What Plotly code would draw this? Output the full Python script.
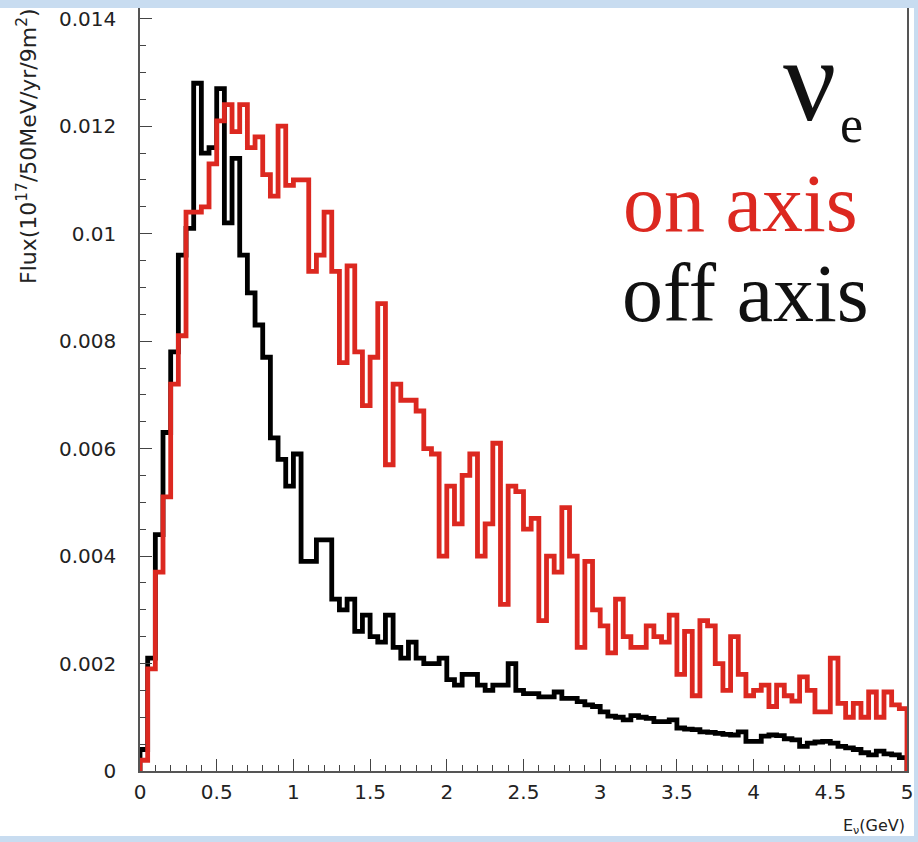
import numpy as np
import plotly.graph_objects as go

# ---------------- data ----------------
E_MIN = 0.0
E_MAX = 5.0
N_BINS = 100

off_axis = [
    0.0004, 0.0021, 0.0044, 0.0063, 0.0078, 0.0096, 0.0101, 0.0128, 0.0115, 0.0116,
    0.0127, 0.0102, 0.0114, 0.0096, 0.0089, 0.0083, 0.0077, 0.0062, 0.0058, 0.0053,
    0.0059, 0.0039, 0.0039, 0.0043, 0.0043, 0.0032, 0.0030, 0.0032, 0.0026, 0.0029,
    0.0025, 0.0024, 0.0029, 0.0023, 0.0021, 0.0024, 0.0021, 0.0020, 0.0020, 0.0021,
    0.0017, 0.0016, 0.0018, 0.0018, 0.0016, 0.0015, 0.0016, 0.0016, 0.0020, 0.0015,
    0.00144, 0.00144, 0.00138, 0.00138, 0.00147, 0.00135, 0.00135, 0.00129, 0.00123, 0.0012,
    0.0011, 0.00102, 0.0010, 0.00095, 0.00103, 0.0010, 0.00098, 0.00092, 0.00092, 0.00095,
    0.0008, 0.00078, 0.00077, 0.00073, 0.00072, 0.0007, 0.00068, 0.00067, 0.00073, 0.00055,
    0.00055, 0.00065, 0.00067, 0.00066, 0.0006, 0.00058, 0.00046, 0.00052, 0.00054, 0.00055,
    0.00052, 0.00046, 0.00043, 0.0004, 0.00034, 0.0003, 0.00037, 0.00032, 0.0003, 0.00025,
]

on_axis = [
    0.0002, 0.0019, 0.0037, 0.0051, 0.0072, 0.0081, 0.0104, 0.0104, 0.0105, 0.0113,
    0.0121, 0.0124, 0.0119, 0.0124, 0.0116, 0.0118, 0.0111, 0.0107, 0.0120, 0.0109,
    0.0110, 0.0110, 0.0093, 0.0096, 0.0104, 0.0093, 0.0076, 0.0094, 0.0078, 0.0068,
    0.0077, 0.0087, 0.0057, 0.0072, 0.0069, 0.0069, 0.0067, 0.0060, 0.0059, 0.0040,
    0.0053, 0.0046, 0.0055, 0.0059, 0.0040, 0.0046, 0.0061, 0.0031, 0.0053, 0.0052,
    0.0045, 0.0047, 0.0028, 0.0040, 0.0037, 0.0049, 0.0040, 0.0023, 0.0039, 0.0030,
    0.0027, 0.0022, 0.0032, 0.0025, 0.0023, 0.0023, 0.0027, 0.0025, 0.0024, 0.0029,
    0.0018, 0.0026, 0.0014, 0.0028, 0.0027, 0.0020, 0.0015, 0.0025, 0.0018, 0.0014,
    0.0015, 0.0016, 0.0012, 0.0016, 0.0014, 0.0013, 0.00175, 0.0015, 0.0011, 0.0011,
    0.0021, 0.00126, 0.0010, 0.00126, 0.0010, 0.00147, 0.0010, 0.00147, 0.00123, 0.00116,
]

x_ticks = [0, 0.5, 1, 1.5, 2, 2.5, 3, 3.5, 4, 4.5, 5]
y_ticks = [0, 0.002, 0.004, 0.006, 0.008, 0.01, 0.012, 0.014]

# ---------------- figure ----------------
W, H = 918, 842
L, R, T, B = 140, 11, 8, 71
edges = np.linspace(E_MIN, E_MAX, N_BINS + 1)


def step_xy(vals):
    xs = [edges[0]] + list(edges[:-1]) + [edges[-1], edges[-1]]
    ys = [0.0] + list(vals) + [vals[-1], 0.0]
    return xs, ys


fig = go.Figure()
for vals, col, name in [(off_axis, "#000000", "off axis"), (on_axis, "#dc2820", "on axis")]:
    xs, ys = step_xy(vals)
    fig.add_trace(go.Scatter(x=xs, y=ys, mode="lines", line=dict(shape="hv", color=col, width=4.8),
                             name=name, showlegend=False, cliponaxis=False))

PW = W - L - R
PH = H - T - B


def px(xp):
    return (xp - L) / PW


def py(yp):
    return (H - B - yp) / PH


tickfont = dict(family="DejaVu Sans", size=20, color="#222")
fig.update_layout(
    width=W, height=H,
    margin=dict(l=L, r=R, t=T, b=B, autoexpand=False),
    paper_bgcolor="white", plot_bgcolor="white",
    xaxis=dict(range=[E_MIN, E_MAX], tickvals=x_ticks, ticks="inside", ticklen=12, tickwidth=1,
               tickcolor="#444", showline=True, linecolor="#555", linewidth=1.5, mirror=True,
               showgrid=False, zeroline=False, tickfont=tickfont, ticklabelstandoff=2,
               automargin=False,
               minor=dict(dtick=0.1, ticks="inside", ticklen=6, tickcolor="#444", showgrid=False)),
    yaxis=dict(range=[0, 0.0142], tickvals=y_ticks, ticks="inside", ticklen=12, tickwidth=1,
               tickcolor="#444", showline=True, linecolor="#555", linewidth=1.5, mirror=True,
               showgrid=False, zeroline=False, tickfont=tickfont, ticklabelstandoff=18,
               automargin=False,
               minor=dict(dtick=0.0005, ticks="inside", ticklen=6, tickcolor="#444", showgrid=False)),
)

annos = [
    dict(text="Flux(10<sup>17</sup>/50MeV/yr/9m<sup>2</sup>)", x=px(27), y=py(6), textangle=-90,
         xanchor="center", yanchor="top", font=dict(family="DejaVu Sans", size=22, color="#222")),
    dict(text="E<sub>ν</sub>(GeV)", x=px(907), y=py(826), xanchor="right", yanchor="middle",
         font=dict(family="DejaVu Sans", size=16, color="#222")),
    dict(text="ν", x=px(838), y=py(80), xanchor="right", yanchor="middle",
         font=dict(family="Liberation Serif", size=118, color="#111")),
    dict(text="e", x=px(851), y=py(124), xanchor="center", yanchor="middle",
         font=dict(family="Liberation Serif", size=52, color="#111")),
    dict(text="on axis", x=px(860), y=py(203), xanchor="right", yanchor="middle",
         font=dict(family="Liberation Serif", size=82, color="#dc2820")),
    dict(text="off axis", x=px(871), y=py(293), xanchor="right", yanchor="middle",
         font=dict(family="Liberation Serif", size=82, color="#111")),
]
for a in annos:
    a.update(xref="paper", yref="paper", showarrow=False)
    fig.add_annotation(**a)

blue = "#c8dcf0"
for (x0, y0, x1, y1) in [(0, 0, W, 8), (914, 0, W, H), (0, 836, W, H)]:
    fig.add_shape(type="rect", xref="paper", yref="paper", x0=px(x0), x1=px(x1), y0=py(y1), y1=py(y0),
                  fillcolor=blue, line=dict(width=0), layer="above")

fig.write_html("out.html", config={"displayModeBar": False},
               post_script="document.body.style.margin='0';document.body.style.overflow='hidden';")
